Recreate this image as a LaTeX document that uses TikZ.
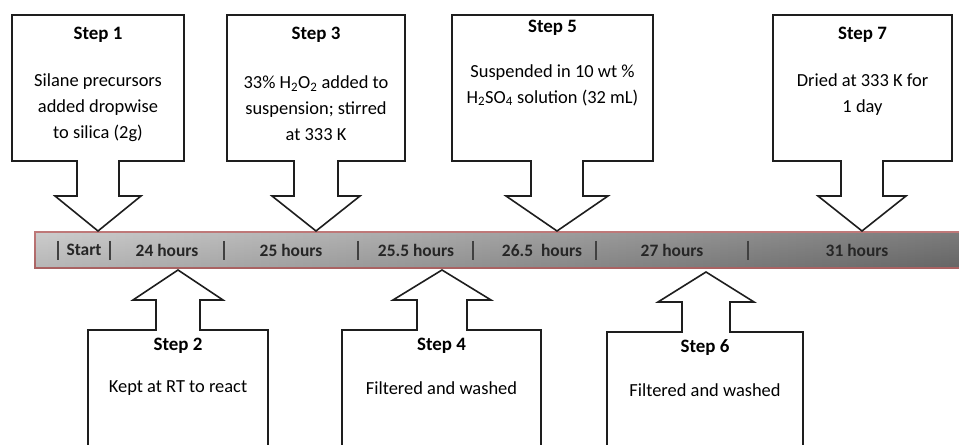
\documentclass[tikz,border=0pt]{standalone}
\usepackage{fontspec}
\setmainfont{Carlito}
\usetikzlibrary{calc, positioning}
\definecolor{barRed}{HTML}{C86A6A}
\definecolor{barLight}{HTML}{DADADA}
\definecolor{barDark}{HTML}{6C6C6C}
\definecolor{lineGray}{HTML}{1E1E1E}
\tikzset{
  stepbox/.style={rectangle, minimum height=146bp, inner sep=0pt, outer sep=0pt},
  callout/.style={draw=lineGray, line width=1.6bp, fill=white, line join=miter},
  steptitle/.style={font=\fontsize{19}{23}\selectfont\bfseries, inner sep=0pt},
  stepbody/.style={font=\fontsize{18.5}{26}\selectfont, align=center, inner sep=0pt},
  timebar/.style={draw=barRed, line width=1.5bp, left color=barLight, right color=barDark,
                  minimum width=935bp, minimum height=36bp, inner sep=0pt},
  hlabel/.style={font=\fontsize{17.5}{20}\selectfont\bfseries, inner sep=0pt, text=black!85},
  hsep/.style={draw=black!75, line width=1.3bp},
}
% box node, tip coordinate, shaft half width, head half width
\newcommand{\downcall}[4]{%
  \coordinate (#1f) at (#2 |- #1.south);
  \coordinate (#1m) at ($(#1f)!0.5!(#2)$);
  \draw[callout] ($(#1f)+(-#3,0)$) -- (#1.south west) -- (#1.north west)
    -- (#1.north east) -- (#1.south east) -- ($(#1f)+(#3,0)$)
    -- ($(#1m)+(#3,0)$) -- ($(#1m)+(#4,0)$) -- (#2)
    -- ($(#1m)+(-#4,0)$) -- ($(#1m)+(-#3,0)$) -- cycle;
}
\newcommand{\upcall}[4]{%
  \coordinate (#1f) at (#2 |- #1.north);
  \coordinate (#1m) at ($(#1f)!0.5!(#2)$);
  \draw[callout] ($(#1f)+(-#3,0)$) -- (#1.north west) -- (#1.south west)
    -- (#1.south east) -- (#1.north east) -- ($(#1f)+(#3,0)$)
    -- ($(#1m)+(#3,0)$) -- ($(#1m)+(#4,0)$) -- (#2)
    -- ($(#1m)+(-#4,0)$) -- ($(#1m)+(-#3,0)$) -- cycle;
}

\begin{document}
\begin{tikzpicture}[x=1bp, y=-1bp]
    \useasboundingbox (0,0) rectangle (959,445);
    % time line
    \node[timebar] (bar) at (502.5,250) {};
    \shade[top color=black!35, middle color=white, bottom color=black!70, opacity=0.25]
      (bar.north west) rectangle (bar.south east);
    \draw[hsep] (58,241) -- (58,260);
    \draw[hsep] (110,241) -- (110,260);
    \draw[hsep] (224,241) -- (224,260);
    \draw[hsep] (358,241) -- (358,260);
    \draw[hsep] (473,241) -- (473,260);
    \draw[hsep] (596,241) -- (596,260);
    \draw[hsep] (748,241) -- (748,260);
    \node[hlabel] (h0) at (84,250)  {Start};
    \node[hlabel] (h1) at (167,250) {24 hours};
    \node[hlabel] (h2) at (291,250) {25 hours};
    \node[hlabel] (h3) at (416,250) {25.5 hours};
    \node[hlabel] (h4) at (542,250) {26.5\ \ hours};
    \node[hlabel] (h5) at (672,250) {27 hours};
    \node[hlabel] (h6) at (857,250) {31 hours};

    % tips on the bar
    \coordinate (p1) at (98,231);
    \coordinate (p3) at (316,231);
    \coordinate (p5) at (557,231);
    \coordinate (p7) at (862,231);
    \coordinate (p2) at (178,270);
    \coordinate (p4) at (442,270);
    \coordinate (p6) at (706,272);

    % boxes
    \node[stepbox, minimum width=172bp] (b1) at (98,88) {};
    \node[stepbox, minimum width=178bp] (b3) at (316,88) {};
    \node[stepbox, minimum width=201bp] (b5) at (552.5,88) {};
    \node[stepbox, minimum width=179bp] (b7) at (862.5,88) {};
    \node[stepbox, minimum width=180bp, minimum height=140bp] (b2) at (178,400) {};
    \node[stepbox, minimum width=199bp, minimum height=140bp] (b4) at (441.5,400) {};
    \node[stepbox, minimum width=196bp, minimum height=140bp] (b6) at (705,402) {};

    \downcall{b1}{p1}{21}{43}
    \downcall{b3}{p3}{22}{44}
    \downcall{b5}{p5}{26}{51}
    \downcall{b7}{p7}{21}{44}
    \upcall{b2}{p2}{22}{45}
    \upcall{b4}{p4}{25}{49}
    \upcall{b6}{p6}{24}{48}

    % texts
    \node[steptitle] (t1) at (98,35) {Step 1};
    \node[stepbody] (d1) at (98,108) {Silane precursors\\added dropwise\\to silica (2g)};
    \node[steptitle] (t3) at (316,35) {Step 3};
    \node[stepbody] (d3) at (316,108)
      {33\% H\textsubscript{2}O\textsubscript{2} added to\\suspension; stirred\\at 333 K};
    \node[steptitle] (t5) at (552.5,28) {Step 5};
    \node[stepbody] (d5) at (552.5,85)
      {Suspended in 10 wt \%\\H\textsubscript{2}SO\textsubscript{4} solution (32 mL)};
    \node[steptitle] (t7) at (862.5,35) {Step 7};
    \node[stepbody] (d7) at (862.5,95) {Dried at 333 K for\\1 day};
    \node[steptitle] (t2) at (178,346) {Step 2};
    \node[stepbody] (d2) at (178,388) {Kept at RT to react};
    \node[steptitle] (t4) at (441.5,346) {Step 4};
    \node[stepbody] (d4) at (441.5,388) {Filtered and washed};
    \node[steptitle] (t6) at (705,348) {Step 6};
    \node[stepbody] (d6) at (705,390) {Filtered and washed};
\end{tikzpicture}
\end{document}
